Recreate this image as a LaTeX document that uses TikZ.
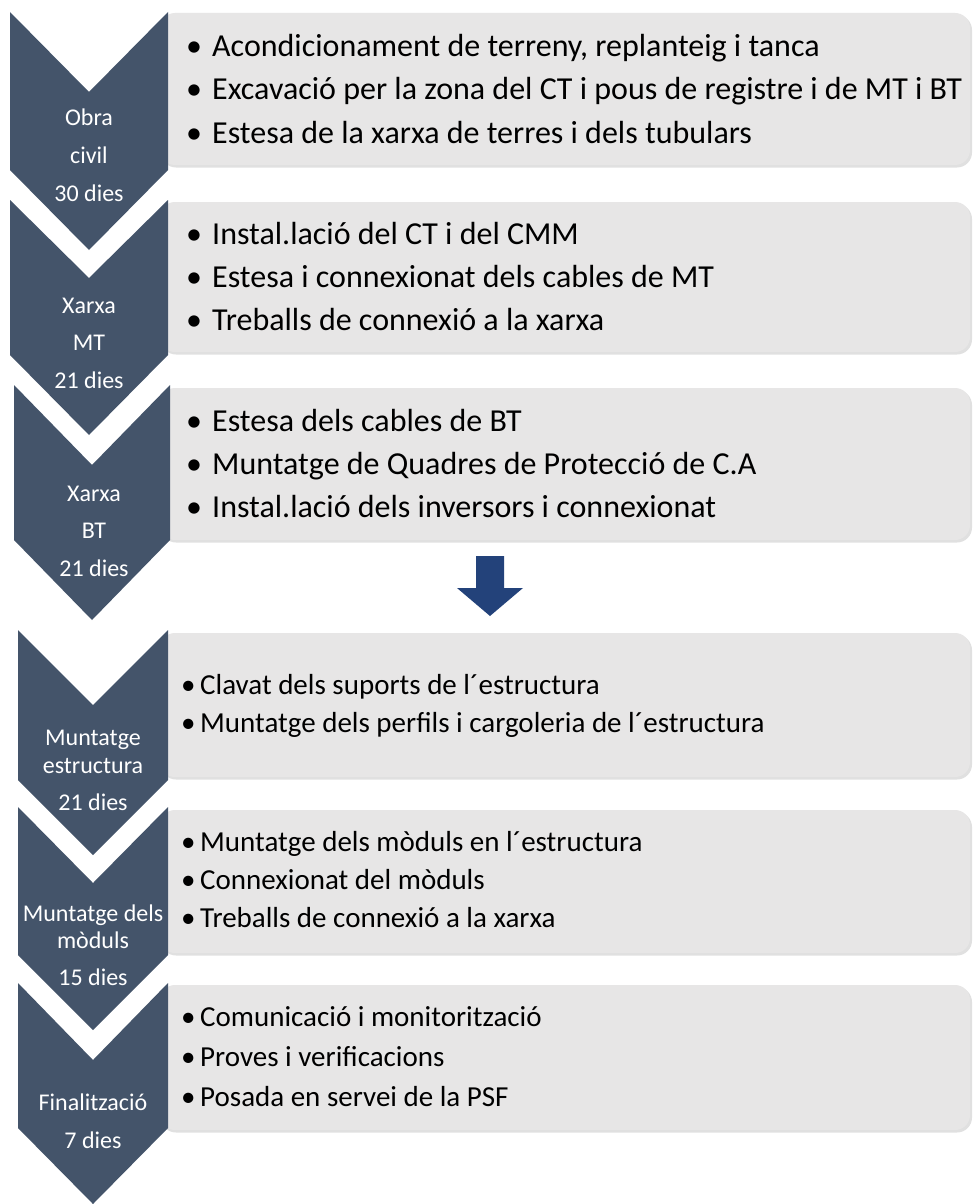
\documentclass[tikz,border=0pt]{standalone}
\usepackage{fontspec}
\setmainfont{Carlito}
\definecolor{chevcol}{HTML}{44546A}
\definecolor{boxcol}{HTML}{E7E6E6}
\definecolor{shadowcol}{HTML}{D4D4D4}
\definecolor{arrowcol}{HTML}{23427A}
\begin{document}
\begin{tikzpicture}[x=1pt,y=-1pt,
  chev/.style={fill=chevcol},
  panel/.style={fill=boxcol, rounded corners=15pt},
  panelshadow/.style={fill=shadowcol, rounded corners=15pt, opacity=0.7},
  item/.style={anchor=base west, inner sep=0pt, font=\fontsize{29}{34}\selectfont, text=black},
  itembig/.style={item, font=\fontsize{32}{38}\selectfont},
  lab/.style={anchor=base, inner sep=0pt, font=\fontsize{24}{28}\selectfont, text=white}]
\useasboundingbox (0,0) rectangle (973,1204);
\fill[white] (0,0) rectangle (973,1204);

% panels (shadow, then fill)
\foreach \t/\b in {13/165, 202/352, 388/540, 633/777, 810/953, 985/1130}{
  \fill[panelshadow] (161,\t+2) rectangle (972,\b+2.5);
  \fill[panel] (160,\t) rectangle (970,\b);
}

% chevrons
\fill[chev] (10,12) -- (89,92) -- (168,12) -- (168,170) -- (89,250) -- (10,170) -- cycle;
\fill[chev] (10,200) -- (89,278) -- (168,200) -- (168,355) -- (89,435) -- (10,355) -- cycle;
\fill[chev] (14,385) -- (92,465) -- (170,385) -- (170,540) -- (92,620) -- (14,540) -- cycle;
\fill[chev] (18,630) -- (93,705) -- (168,630) -- (168,780) -- (93,855) -- (18,780) -- cycle;
\fill[chev] (18,807) -- (93,883) -- (168,807) -- (168,955) -- (93,1030) -- (18,955) -- cycle;
\fill[chev] (18,983) -- (93,1060) -- (168,983) -- (168,1128) -- (93,1204) -- (18,1128) -- cycle;

% chevron labels
\node[lab] (c1a) at (89,126) {Obra};
\node[lab] (c1b) at (89,163) {civil};
\node[lab] (c1c) at (89,201) {30 dies};
\node[lab] (c2a) at (89,313) {Xarxa};
\node[lab] (c2b) at (89,350) {MT};
\node[lab] (c2c) at (89,388) {21 dies};
\node[lab] (c3a) at (94,501) {Xarxa};
\node[lab] (c3b) at (94,538) {BT};
\node[lab] (c3c) at (94,576) {21 dies};
\node[lab] (c4a) at (93,745) {Muntatge};
\node[lab] (c4b) at (93,773) {estructura};
\node[lab] (c4c) at (93,810) {21 dies};
\node[lab] (c5a) at (93,921) {Muntatge dels};
\node[lab] (c5b) at (93,948) {mòduls};
\node[lab] (c5c) at (93,985) {15 dies};
\node[lab] (c6a) at (93,1110) {Finalització};
\node[lab] (c6b) at (93,1148) {7 dies};

% items rows 1-3
\newcommand\bulA{\makebox[26pt][l]{•}}
\newcommand\bulB{\makebox[19pt][l]{•}}
\node[itembig] (r1a) at (186,57) {\bulA Acondicionament de terreny, replanteig i tanca};
\node[itembig] (r1b) at (186,100) {\bulA Excavació per la zona del CT i pous de registre i de MT i BT};
\node[itembig] (r1c) at (186,143) {\bulA Estesa de la xarxa de terres i dels tubulars};
\node[itembig] (r2a) at (186,244) {\bulA Instal.lació del CT i del CMM};
\node[itembig] (r2b) at (186,287) {\bulA Estesa i connexionat dels cables de MT};
\node[itembig] (r2c) at (186,330) {\bulA Treballs de connexió a la xarxa};
\node[itembig] (r3a) at (186,431) {\bulA Estesa dels cables de BT};
\node[itembig] (r3b) at (186,474) {\bulA Muntatge de Quadres de Protecció de C.A};
\node[itembig] (r3c) at (186,517) {\bulA Instal.lació dels inversors i connexionat};
% items rows 4-6
\node[item] (r4a) at (181,694) {\bulB Clavat dels suports de l´estructura};
\node[item] (r4b) at (181,732) {\bulB Muntatge dels perfils i cargoleria de l´estructura};
\node[item] (r5a) at (181,851) {\bulB Muntatge dels mòduls en l´estructura};
\node[item] (r5b) at (181,889) {\bulB Connexionat del mòduls};
\node[item] (r5c) at (181,927) {\bulB Treballs de connexió a la xarxa};
\node[item] (r6a) at (181,1026) {\bulB Comunicació i monitorització};
\node[item] (r6b) at (181,1066) {\bulB Proves i verificacions};
\node[item] (r6c) at (181,1106) {\bulB Posada en servei de la PSF};

% down arrow
\fill[arrowcol] (476,556) -- (504,556) -- (504,588) -- (523,588) -- (490,616) -- (457,588) -- (476,588) -- cycle;
\end{tikzpicture}
\end{document}
